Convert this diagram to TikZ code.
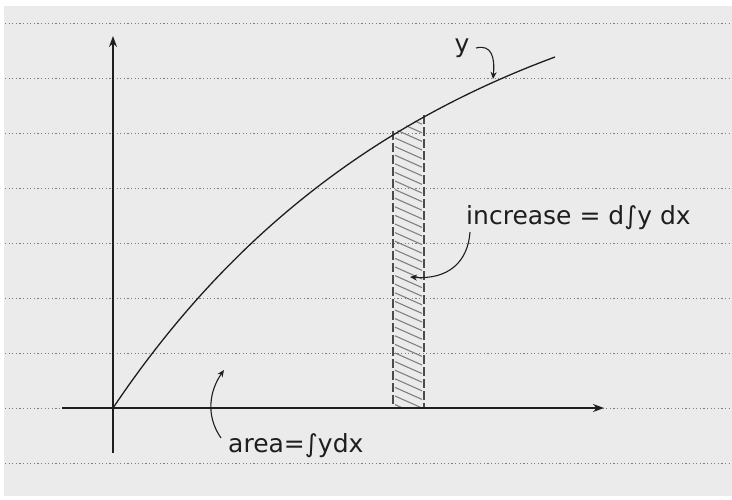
\documentclass[tikz,border=0pt]{standalone}
\usepackage{fontspec}
\setmainfont{DejaVu Sans}
\usetikzlibrary{arrows.meta}
\definecolor{paper}{HTML}{EBEBEB}
\definecolor{rule}{HTML}{7E7E7E}
\definecolor{ink}{HTML}{1E1E1E}
\definecolor{hatch}{HTML}{808080}
\tikzset{
  ruling/.style={rule, line width=0.8pt, dash pattern=on 1.2pt off 2.4pt},
  axisline/.style={ink, line width=1.6pt, -{Stealth[length=11pt,width=8pt]}},
  curveline/.style={ink, line width=1.3pt},
  stripedge/.style={ink!80, line width=1.1pt, dash pattern=on 9pt off 3pt},
  hatchline/.style={hatch, line width=1.1pt},
  pointer/.style={ink, line width=1.1pt, -{Stealth[length=7pt,width=6pt]}},
  label/.style={ink, inner sep=0pt, font=\fontsize{25}{25}\selectfont}
}
\begin{document}
\begin{tikzpicture}[x=1pt,y=-1pt]
\useasboundingbox (0,0) rectangle (732,499);
\fill[white] (0,0) rectangle (732,499);
\fill[paper] (4,6) rectangle (732,496);
% ruled lines
\foreach \yy in {23,78,133,188,243,298,353,408,463}
  \draw[ruling] (5,\yy) -- (732,\yy);
% hatched strip
\begin{scope}
  \clip (393,133) -- (424,116) -- (424,408) -- (393,408) -- cycle;
  \foreach \k in {0,...,36}
    \draw[hatchline] (395,95+8.6*\k) -- (422,107+8.6*\k);
\end{scope}
\coordinate (sl1) at (393,131);
\coordinate (sl2) at (393,408);
\coordinate (sr1) at (424,115);
\coordinate (sr2) at (424,408);
\draw[stripedge] (sl1) -- (sl2);
\draw[stripedge] (sr1) -- (sr2);
% axes
\coordinate (ybot) at (113,453);
\coordinate (ytop) at (113,36);
\coordinate (xl) at (62,408);
\coordinate (xr) at (604,408);
\draw[axisline] (ybot) -- (ytop);
\draw[axisline] (xl) -- (xr);
% curve
\coordinate (c0) at (113,408);
\coordinate (c3) at (555,57);
\draw[curveline] (c0) .. controls (224.6,242) and (367.5,126.4) .. (c3);
% labels
\node[label, anchor=base] (ylab) at (462,52) {y};
\node[label, anchor=base west] (inc) at (466,224) {increase = d∫y dx};
\node[label, anchor=base west] (area) at (228,452) {area=∫ydx};
% pointers
\coordinate (ytip) at (493,79);
\coordinate (incstart) at (470,232);
\coordinate (inctip) at (410,277);
\coordinate (areastart) at (221,438);
\coordinate (areatip) at (224,370);
\draw[pointer] (476,48) .. controls (492,44) and (495,58) .. (ytip);
\draw[pointer] (incstart) .. controls (468,262) and (448,280) .. (inctip);
\draw[pointer] (areastart) .. controls (205,415) and (210,390) .. (areatip);
\end{tikzpicture}
\end{document}
